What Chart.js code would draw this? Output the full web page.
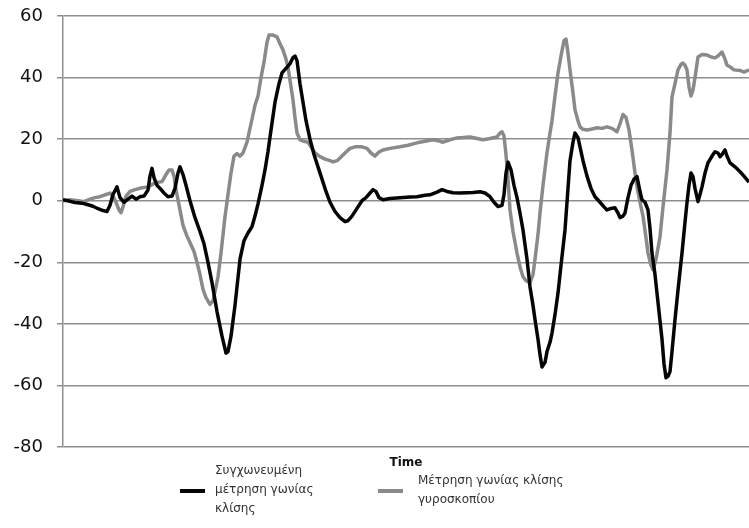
<!DOCTYPE html>
<html>
<head>
<meta charset="utf-8">
<script src="https://cdn.jsdelivr.net/npm/chart.js@4/dist/chart.umd.min.js"></script>
<style>
  html, body { margin: 0; padding: 0; background: #fff; }
  #wrap { width: 749px; height: 528px; }
</style>
</head>
<body>
<div id="wrap"><canvas id="c" width="749" height="528"></canvas></div>
<script>
// Time axis (samples) and roll-angle readings for each series
const fusedTime = [0,7,12,19,25,30,35,40,44,47,50,54,57,61,65,69,73,77,81,85,87,89,91,94,97,101,105,109,112,115,117,120,123,127,132,137,141,145,149,154,159,163,165,168,172,175,177,181,185,189,192,195,199,202,205,208,212,216,219,223,227,230,232,234,237,240,243,247,251,255,259,263,267,272,277,282,285,289,294,299,303,307,310,313,316,320,327,337,347,354,362,367,374,379,384,390,397,404,410,417,422,427,431,435,439,441,443,445,448,451,454,457,460,464,467,470,472,475,477,479,482,484,487,489,492,495,498,502,505,507,510,512,515,517,520,524,528,532,537,541,544,548,552,555,557,560,562,565,568,571,574,577,579,582,585,587,589,592,594,597,599,601,603,605,607,609,612,615,619,622,624,626,628,630,632,635,637,639,642,645,649,652,655,657,659,662,664,667,672,677,681,686];
const fusedAngle = [0.3,-0.2,-0.6,-0.8,-1.3,-1.8,-2.6,-3.2,-3.5,-1.5,2,4.5,1,-0.5,0.5,1.5,0.5,1.3,1.5,3.5,8,10.5,7.5,5,4,2.5,1.3,1.5,4,9,11,8.5,5,0,-5.5,-10,-14,-20,-26.6,-36,-44,-49.5,-49,-44,-34,-25,-19,-13,-10.5,-8.4,-5,-1,5,10,16,23,32,38,41.5,43,44.5,46.5,47,45.5,38,32,26,20,15,11,7,3,-0.5,-3.5,-5.5,-6.8,-6.5,-5,-2.5,0,1,2.5,3.6,3,1,0.3,0.7,1,1.2,1.3,1.8,1.9,2.8,3.6,3,2.6,2.5,2.6,2.7,2.9,2.5,1.3,-0.5,-1.9,-1.5,2,9,12.5,10,5,1,-4,-9.5,-19,-28,-34,-38.6,-45,-50,-54,-52.5,-49,-46,-43,-37,-30,-21,-9.5,4,13,19,22,20.5,17.5,13,8,4,1.3,-0.5,-2,-3,-2.5,-2.3,-4,-5.5,-5,-4,1,5,7,7.8,3,0.3,-0.5,-3,-9,-17,-24,-30,-39,-45,-53,-57.5,-57,-55.5,-49,-38.6,-29,-17,-7,-0.6,5,9,7.8,4,-0.3,2,4.5,9,12.3,14.5,15.9,15.5,14.3,15,16.5,14.5,12.3,11,9.4,8,6];

const gyroTime = [0,7,15,21,27,32,37,42,47,50,53,56,58,60,63,67,72,79,85,92,99,103,106,109,111,113,115,120,124,127,131,134,137,140,143,147,150,153,155,158,162,165,168,171,174,177,180,184,188,192,195,198,201,204,206,210,214,217,220,223,225,228,230,232,234,237,241,245,248,252,257,262,267,270,274,277,282,287,292,299,304,308,312,316,320,327,337,345,354,362,370,375,380,387,394,400,407,414,420,427,434,437,439,441,443,445,447,450,454,457,460,463,467,470,472,475,477,480,484,487,489,492,495,498,501,503,505,507,510,512,515,517,520,524,529,534,539,544,549,554,557,560,563,566,569,572,574,577,580,583,585,588,590,593,597,600,604,607,609,612,615,618,620,622,624,626,628,630,632,635,639,644,649,652,655,659,662,664,667,671,677,681,686];
const gyroAngle = [0,0.3,0,-0.3,0.5,1,1.3,1.9,2.5,1.5,-0.5,-3,-3.9,-2,1.5,3,3.6,4.2,4.5,5.8,6.2,8.5,10,10,8,3.5,0.3,-8,-11.5,-13.6,-16.5,-20,-24,-28.8,-31.5,-33.7,-32.5,-28,-24.7,-17,-5.2,2,9,14.5,15.3,14.5,15.5,19,25,31,34,40,45,51.5,53.8,53.8,53.2,51,49,46,43.4,37,32.7,27,22,19.8,19.3,19,17.5,15.5,14.3,13.5,13,12.6,13,13.9,15.5,17,17.5,17.5,17,15.5,14.5,15.8,16.5,17,17.5,18,18.8,19.3,19.8,19.5,19,19.8,20.4,20.5,20.7,20.2,19.8,20.2,20.7,22,22.4,21,15,7,-3,-10,-17,-21.5,-24.7,-26,-26.6,-24,-19,-11,-4,5,15.6,22,26,34,41.5,47,52,52.5,48,42.5,35,29.5,26,24,23.2,23,23.3,23.7,23.5,24,23.5,22.4,25,28,27,23,16.5,9,4.5,-0.5,-5,-12,-17,-21,-22.4,-19,-11.7,-2,10,22,33.7,38,42.5,44.3,44.7,44,42.5,37,34,36,40,46.7,47.5,47.3,46.6,46.4,47,48.3,46,44,43.5,42.5,42.3,41.8,42.5,43];

// Y axis range and step
const yTicks = { min: -80, max: 60, step: 20 };

const seriesNames = [
  ['Συγχωνευμένη', 'μέτρηση γωνίας', 'κλίσης'],
  ['Μέτρηση γωνίας κλίσης', 'γυροσκοπίου']
];
const xTitle = 'Time';

const FUSED_COLOR = '#050505';
const GYRO_COLOR = '#8a8a8a';
const GRID_COLOR = '#8e8e8e';

function toPoints(t, v) {
  return t.map((x, i) => ({ x: x, y: v[i] }));
}

// Legend drawn below the axis title, with wrapped series names
const bottomLegend = {
  id: 'bottomLegend',
  afterDraw(chart) {
    const ctx = chart.ctx;
    const area = chart.chartArea;
    const cy = area.bottom + 43;
    const items = [
      { lines: seriesNames[0], color: FUSED_COLOR, x: 180, gap: 35 },
      { lines: seriesNames[1], color: GYRO_COLOR, x: 378, gap: 40 }
    ];
    ctx.save();
    ctx.font = '12px "DejaVu Sans"';
    ctx.textBaseline = 'middle';
    ctx.textAlign = 'left';
    const lh = 19;
    items.forEach(it => {
      ctx.strokeStyle = it.color;
      ctx.lineWidth = 4;
      ctx.lineCap = 'butt';
      ctx.beginPath();
      ctx.moveTo(it.x, cy + 1);
      ctx.lineTo(it.x + 25, cy + 1);
      ctx.stroke();
      ctx.fillStyle = '#333';
      const n = it.lines.length;
      it.lines.forEach((s, i) => {
        ctx.fillText(s, it.x + it.gap, cy + (i - (n - 1) / 2) * lh);
      });
    });
    ctx.restore();
  }
};

Chart.defaults.font.family = '"DejaVu Sans", sans-serif';

new Chart(document.getElementById('c'), {
  type: 'line',
  data: {
    datasets: [
      {
        label: seriesNames[0].join(' '),
        data: toPoints(fusedTime, fusedAngle),
        borderColor: FUSED_COLOR,
        borderWidth: 3.5,
        pointRadius: 0,
        tension: 0,
        borderJoinStyle: 'round',
        order: 0
      },
      {
        label: seriesNames[1].join(' '),
        data: toPoints(gyroTime, gyroAngle),
        borderColor: GYRO_COLOR,
        borderWidth: 3.5,
        pointRadius: 0,
        tension: 0,
        borderJoinStyle: 'round',
        order: 1
      }
    ]
  },
  options: {
    responsive: false,
    animation: false,
    devicePixelRatio: 1,
    layout: { padding: { top: 16, bottom: 54, left: 0, right: 0 } },
    plugins: {
      legend: { display: false },
      tooltip: { enabled: false }
    },
    scales: {
      x: {
        type: 'linear',
        min: 0,
        max: 686,
        ticks: { display: false },
        grid: { display: false },
        border: { display: false },
        title: {
          display: true,
          text: xTitle,
          color: '#111',
          font: { size: 12, weight: 'bold' },
          padding: { top: 4, bottom: 4 }
        },
        afterFit(scale) { scale.height = 27; }
      },
      y: {
        min: yTicks.min,
        max: yTicks.max,
        ticks: {
          stepSize: yTicks.step,
          color: '#111',
          font: { size: 18 },
          padding: 14
        },
        grid: {
          color: GRID_COLOR,
          lineWidth: 1.5,
          drawTicks: true,
          tickLength: 6
        },
        border: { display: true, color: GRID_COLOR, width: 1.5 },
        afterFit(scale) {
          scale.width = 63;
          scale.paddingTop = 0;
          scale.paddingBottom = 0;
        }
      }
    }
  },
  plugins: [bottomLegend]
});
</script>
</body>
</html>
